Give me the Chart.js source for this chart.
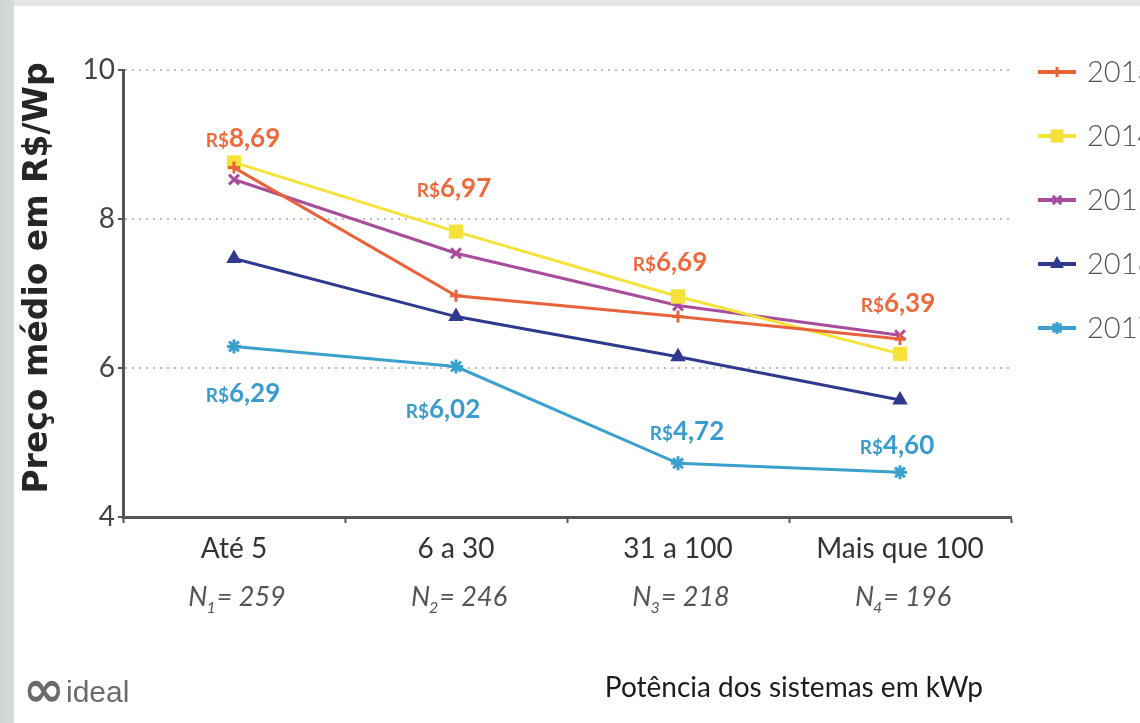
<!DOCTYPE html>
<html lang="pt-BR">
<head>
<meta charset="utf-8">
<title>Preço médio em R$/Wp por potência</title>
<script src="https://cdn.jsdelivr.net/npm/chart.js@4.4.1/dist/chart.umd.min.js"></script>
<style>
    html, body { margin: 0; padding: 0; }
    body {
        width: 1140px;
        height: 723px;
        overflow: hidden;
        position: relative;
        background: linear-gradient(to right, #cbd5ce 0, #d5ddd7 14px, #e2e7e4 14px);
    }
    .frame { position: absolute; left: 14px; top: 6px; width: 1126px; height: 717px; background: #fff; }
    canvas { display: block; }
</style>
</head>
<body>
<div class="frame"><canvas id="priceChart" width="1126" height="717"></canvas></div>
<script>
(() => {
    'use strict';

    const categories = ['Até 5', '6 a 30', '31 a 100', 'Mais que 100'];
    const sampleSizes = [259, 246, 218, 196];
    const years = ['2013', '2014', '2015', '2016', '2017'];
    const prices2013 = [8.69, 6.97, 6.69, 6.39];
    const prices2014 = [8.76, 7.83, 6.96, 6.19];
    const prices2015 = [8.53, 7.54, 6.84, 6.44];
    const prices2016 = [7.47, 6.69, 6.15, 5.57];
    const prices2017 = [6.29, 6.02, 4.72, 4.60];
    const yTicks = [4, 6, 8, 10];

    // label nudges in pixels, relative to the point they describe
    const topLabelShift = [[9, -30], [-2, -108], [-8, -55], [-2, -36]];
    const bottomLabelShift = [[9, 47], [-13, 42], [9, -32], [-3, -27]];

    const colors = ['#e8623a', '#f5e23a', '#a84c9c', '#2f3a8f', '#3aa0cc'];
    const markers = [
        { style: 'cross', radius: 6 },
        { style: 'rect', radius: 8 },
        { style: 'crossRot', radius: 7 },
        { style: 'triangle', radius: 6 },
        { style: 'star', radius: 7 },
    ];
    const series = [prices2013, prices2014, prices2015, prices2016, prices2017];

    const fmtPrice = (value) => value.toFixed(2).replace('.', ',');

    const drawPrice = (ctx, value, cx, cy, color) => {
        const num = fmtPrice(value);
        ctx.font = 'bold 19px Lato';
        const wCur = ctx.measureText('R$').width;
        ctx.font = 'bold 26px Lato';
        const wNum = ctx.measureText(num).width;
        const left = cx - (wCur + wNum) / 2;
        const base = cy + 9;
        ctx.fillStyle = color;
        ctx.textAlign = 'left';
        ctx.textBaseline = 'alphabetic';
        ctx.font = 'bold 19px Lato';
        ctx.fillText('R$', left, base);
        ctx.font = 'bold 26px Lato';
        ctx.fillText(num, left + wCur, base);
    };

    const extras = {
        id: 'extras',
        afterDraw(chart) {
            const { ctx } = chart;
            const x = chart.scales.x;
            ctx.save();

            // price labels for 2013 (top) and 2017 (bottom)
            const top = chart.getDatasetMeta(0).data;
            const bottom = chart.getDatasetMeta(4).data;
            top.forEach((pt, i) => drawPrice(ctx, prices2013[i], pt.x + topLabelShift[i][0], pt.y + topLabelShift[i][1], '#ec6a3c'));
            bottom.forEach((pt, i) => drawPrice(ctx, prices2017[i], pt.x + bottomLabelShift[i][0], pt.y + bottomLabelShift[i][1], '#3a9bd0'));

            // sample sizes under the categories
            ctx.fillStyle = '#555';
            ctx.textBaseline = 'alphabetic';
            ctx.textAlign = 'left';
            sampleSizes.forEach((n, i) => {
                const big = 'italic 27px Lato';
                const small = 'italic 16px Lato';
                const rest = `= ${n}`;
                ctx.font = big;
                const wN = ctx.measureText('N').width;
                const wRest = ctx.measureText(rest).width;
                ctx.font = small;
                const wSub = ctx.measureText(String(i + 1)).width;
                let left = x.getPixelForValue(i) + 3 - (wN + wSub + wRest) / 2;
                const base = 600;
                ctx.font = big;
                ctx.fillText('N', left, base);
                left += wN - 1;
                ctx.font = small;
                ctx.fillText(String(i + 1), left, base + 7);
                left += wSub + 1;
                ctx.font = big;
                ctx.fillText(rest, left, base);
            });

            // axis titles
            ctx.fillStyle = '#1c1c1c';
            ctx.font = '28px Lato';
            ctx.textAlign = 'right';
            ctx.fillText('Potência dos sistemas em kWp', 969, 691);

            ctx.save();
            ctx.translate(24, 272);
            ctx.rotate(-Math.PI / 2);
            ctx.textAlign = 'center';
            ctx.textBaseline = 'middle';
            ctx.font = 'bold 33px "DejaVu Sans"';
            ctx.fillStyle = '#262626';
            ctx.fillText('Preço médio em R$/Wp', 0, 0);
            ctx.restore();

            // legend: line with marker, then year
            chart.data.datasets.forEach((ds, i) => {
                const ly = 66 + i * 64;
                ctx.strokeStyle = ds.borderColor;
                ctx.lineWidth = 4;
                ctx.beginPath();
                ctx.moveTo(1024, ly);
                ctx.lineTo(1062, ly);
                ctx.stroke();
                ctx.fillStyle = ds.pointBackgroundColor;
                ctx.strokeStyle = ds.pointBorderColor;
                ctx.lineWidth = ds.pointBorderWidth;
                Chart.helpers.drawPoint(ctx, { pointStyle: ds.pointStyle, radius: ds.pointRadius - 1, rotation: 0, borderWidth: ds.pointBorderWidth }, 1043, ly);
                ctx.fillStyle = '#555';
                ctx.font = '300 29px Lato';
                ctx.textAlign = 'left';
                ctx.textBaseline = 'middle';
                ctx.fillText(ds.label, 1073, ly + 1);
            });

            // logo
            ctx.fillStyle = '#6a6a6a';
            ctx.textBaseline = 'alphabetic';
            ctx.font = 'bold 50px "DejaVu Sans"';
            ctx.fillText('\u221e', 9, 700);
            ctx.font = '30px "Liberation Sans"';
            ctx.fillText('ideal', 52, 696);

            ctx.restore();
        },
    };

    new Chart(document.getElementById('priceChart'), {
        type: 'line',
        data: {
            labels: categories,
            datasets: series.map((values, i) => ({
                label: years[i],
                data: values,
                borderColor: colors[i],
                backgroundColor: colors[i],
                borderWidth: 3,
                pointStyle: markers[i].style,
                pointRadius: markers[i].radius,
                pointBackgroundColor: colors[i],
                pointBorderColor: colors[i],
                pointBorderWidth: 3,
                tension: 0,
                fill: false,
            })),
        },
        options: {
            responsive: false,
            devicePixelRatio: 1,
            animation: false,
            layout: { padding: { left: 0, right: 129, top: 64, bottom: 0 } },
            plugins: {
                legend: { display: false },
                tooltip: { enabled: false },
            },
            scales: {
                x: {
                    type: 'category',
                    offset: true,
                    afterFit: (scale) => { scale.height = 206; },
                    grid: {
                        offset: true,
                        drawOnChartArea: false,
                        drawTicks: true,
                        tickLength: 6,
                        tickColor: '#555',
                        tickWidth: 2,
                    },
                    border: { display: true, color: '#555', width: 3 },
                    ticks: {
                        color: '#333',
                        font: { family: 'Lato', size: 28 },
                        padding: 9,
                        maxRotation: 0,
                    },
                },
                y: {
                    min: yTicks[0],
                    max: yTicks[yTicks.length - 1],
                    afterFit: (scale) => { scale.width = 109; },
                    afterBuildTicks: (scale) => { scale.ticks = yTicks.map((value) => ({ value })); },
                    grid: {
                        color: (ctx) => ctx.tick && ctx.tick.value === yTicks[0] ? 'rgba(0,0,0,0)' : '#bdbdbd',
                        lineWidth: 2,
                        tickLength: 5,
                        tickColor: '#555',
                        tickWidth: 2,
                    },
                    border: { display: true, color: '#555', width: 3, dash: [2, 5] },
                    ticks: {
                        color: '#444',
                        font: { family: 'Lato', size: 28 },
                        padding: 3,
                    },
                },
            },
        },
        plugins: [extras],
    });
})();
</script>
</body>
</html>
